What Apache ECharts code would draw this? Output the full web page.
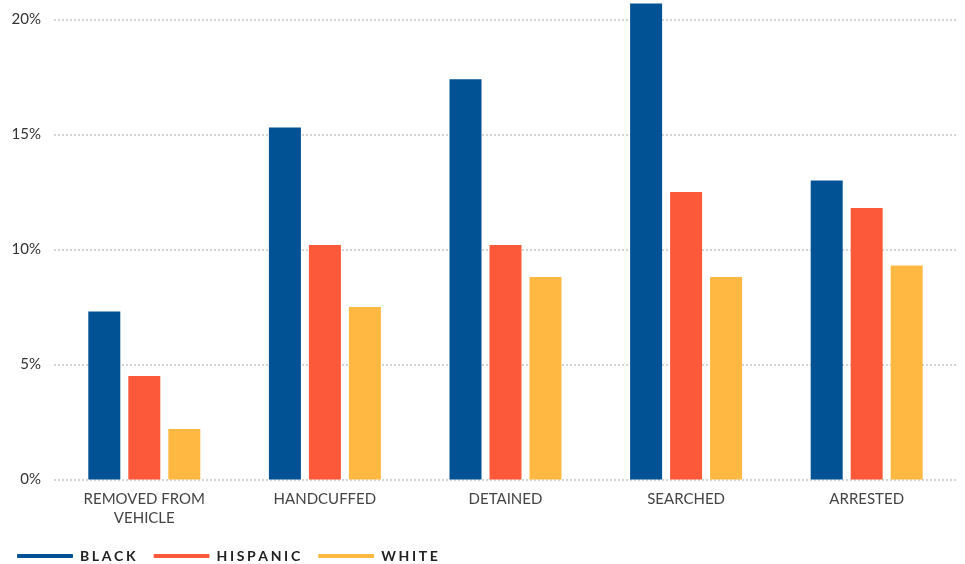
<!DOCTYPE html>
<html>
<head>
<meta charset="utf-8">
<script src="https://cdn.jsdelivr.net/npm/echarts@6/dist/echarts.min.js"></script>
<style>
html,body{margin:0;padding:0;background:#fff;}
#chart{width:965px;height:564px;}
</style>
</head>
<body>
<div id="chart"></div>
<script>
var categories = ['REMOVED FROM\nVEHICLE', 'HANDCUFFED', 'DETAINED', 'SEARCHED', 'ARRESTED'];
var blackValues = [7.3, 15.3, 17.4, 20.7, 13.0];
var hispanicValues = [4.5, 10.2, 10.2, 12.5, 11.8];
var whiteValues = [2.2, 7.5, 8.8, 8.8, 9.3];
var seriesNames = ['BLACK', 'HISPANIC', 'WHITE'];
var colors = ['#005295', '#fc593b', '#ffb942'];

var chart = echarts.init(document.getElementById('chart'), null, {renderer: 'canvas'});
var font = 'Lato, "Open Sans", sans-serif';

function spaced(s) {
  return s.split('').join('\u200A');
}

var option = {
  animation: false,
  color: colors,
  textStyle: {fontFamily: font},
  grid: {left: 54, right: 8, top: 19.5, bottom: 84.5, containLabel: false},
  legend: {
    left: 12,
    top: 544,
    itemWidth: 56,
    itemHeight: 4,
    itemGap: 18,
    icon: 'roundRect',
    textStyle: {fontFamily: font, fontSize: 14, fontWeight: 'bold', color: '#222', padding: [0, 0, 0, 2]},
    formatter: function (name) { return spaced(spaced(name)); },
    data: seriesNames
  },
  xAxis: {
    type: 'category',
    data: categories,
    axisLine: {show: false},
    axisTick: {show: false},
    axisLabel: {fontSize: 15, color: '#444', margin: 10, lineHeight: 19, fontFamily: font}
  },
  yAxis: {
    type: 'value',
    min: 0,
    max: 20,
    interval: 5,
    axisLine: {show: false},
    axisTick: {show: false},
    axisLabel: {fontSize: 15, color: '#333', margin: 13, fontFamily: font, formatter: '{value}%'},
    splitLine: {lineStyle: {color: '#c8c8c8', type: [2, 2], width: 1.5}}
  },
  series: [
    {name: seriesNames[0], type: 'bar', data: blackValues, barWidth: 32, barGap: '25%', clip: false},
    {name: seriesNames[1], type: 'bar', data: hispanicValues, barWidth: 32, barGap: '25%', clip: false},
    {name: seriesNames[2], type: 'bar', data: whiteValues, barWidth: 32, barGap: '25%', clip: false}
  ]
};
chart.setOption(option);
</script>
</body>
</html>
